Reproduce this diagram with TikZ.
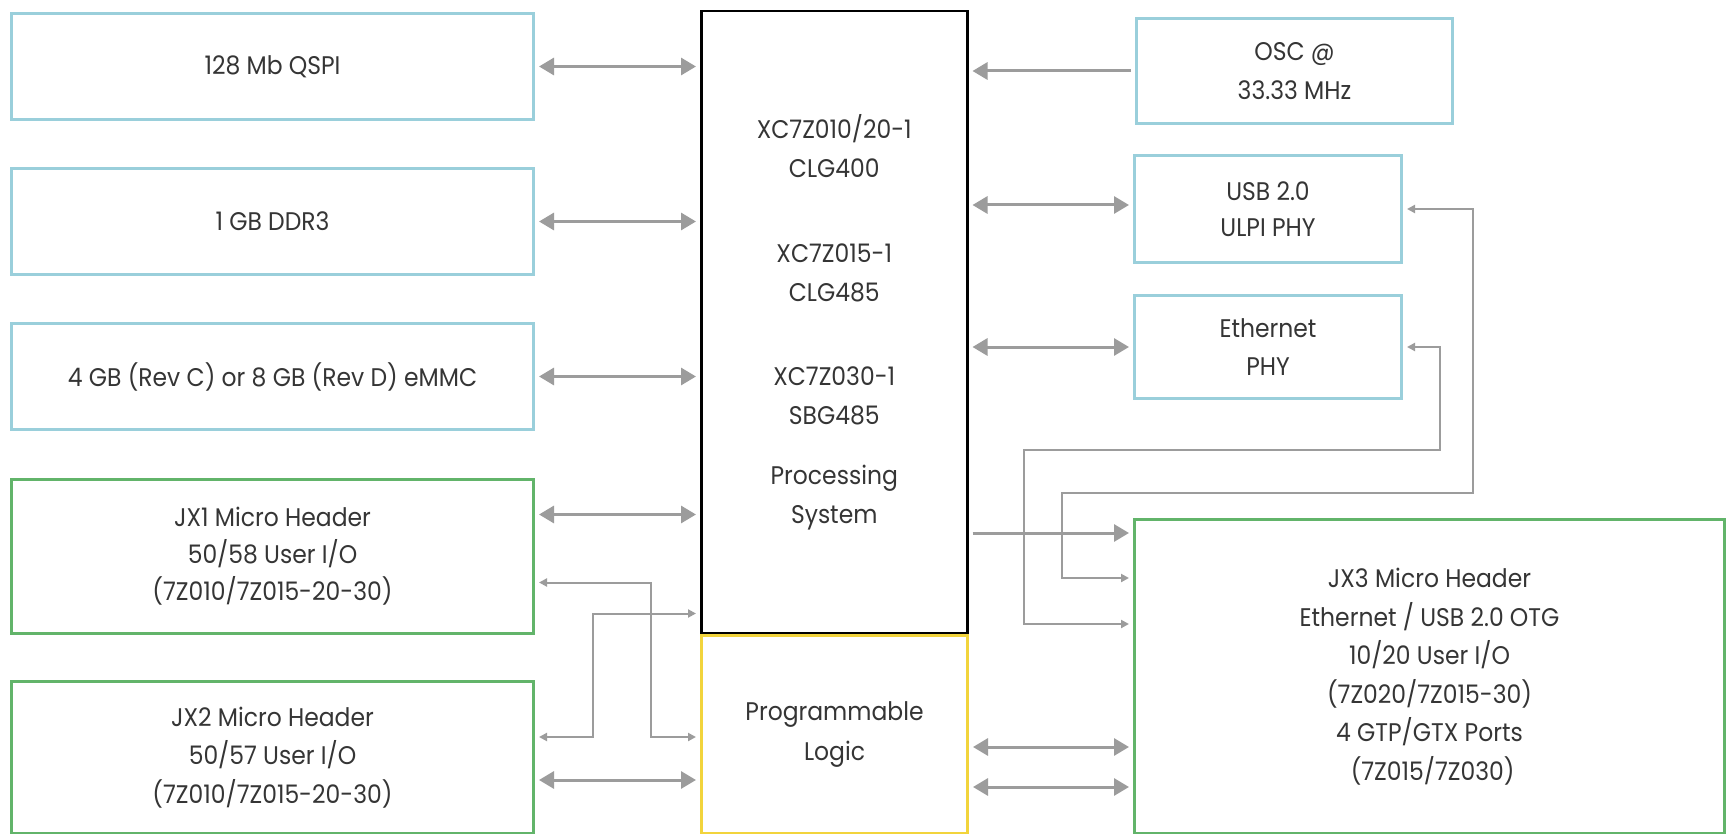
\documentclass[tikz,border=0pt]{standalone}
\usepackage{fontspec}
\setmainfont{Poppins}[FakeStretch=0.92]
\usetikzlibrary{arrows.meta,calc}
\definecolor{cblue}{HTML}{9ACFDB}
\definecolor{cgreen}{HTML}{62B46A}
\definecolor{cyell}{HTML}{F2D43C}
\definecolor{cgray}{HTML}{9C9C9C}
\definecolor{ctext}{HTML}{353535}
\tikzset{
  box/.style={draw, line width=3pt, anchor=north west, align=center, text=ctext,
    inner sep=0pt, font=\fontsize{25.5}{38.5}\selectfont},
  bluebox/.style={box, draw=cblue},
  greenbox/.style={box, draw=cgreen},
  big/.style={draw=cgray, line width=3pt, shorten <=4pt, shorten >=4pt,
    {Triangle[length=15pt,width=17pt]}-{Triangle[length=15pt,width=17pt]}},
  bigto/.style={draw=cgray, line width=3pt, shorten <=4pt, shorten >=4pt,
    -{Triangle[length=15pt,width=17pt]}},
  small/.style={draw=cgray, line width=2pt, shorten <=4pt, shorten >=4pt,
    {Triangle[length=8pt,width=8pt]}-{Triangle[length=8pt,width=8pt]}},
}
\begin{document}
\begin{tikzpicture}[x=1pt,y=-1pt]
\fill[white] (0,0) rectangle (1726,834);
\useasboundingbox (0,0) rectangle (1726,834);
% left column
\node[bluebox, minimum width=522pt, minimum height=106pt] (qspi) at (10,12) {128 Mb QSPI};
\node[bluebox, minimum width=522pt, minimum height=106pt] (ddr) at (10,167) {1 GB DDR3};
\node[bluebox, minimum width=522pt, minimum height=106pt] (emmc) at (10,322) {4 GB (Rev C) or 8 GB (Rev D) eMMC};
\node[greenbox, minimum width=522pt, minimum height=154pt, font=\fontsize{25.5}{37}\selectfont] (jx1) at (10,478) {JX1 Micro Header\\50/58 User I/O\\(7Z010/7Z015-20-30)};
\node[greenbox, minimum width=522pt, minimum height=152pt] (jx2) at (10,680) {JX2 Micro Header\\50/57 User I/O\\(7Z010/7Z015-20-30)};
% center
\node[box, draw=black, line width=2.5pt, minimum width=266pt, minimum height=622pt] (ps) at (700,10)
  {XC7Z010/20-1\\CLG400\\[47pt]XC7Z015-1\\CLG485\\[46pt]XC7Z030-1\\SBG485\\[22pt]Processing\\System};
\node[box, draw=cyell, minimum width=266pt, minimum height=198pt, font=\fontsize{25.5}{40}\selectfont] (pl) at (700,634) {Programmable\\Logic};
% right column
\node[bluebox, minimum width=316pt, minimum height=105pt] (osc) at (1135,17) {OSC @\\33.33 MHz};
\node[bluebox, minimum width=267pt, minimum height=107pt, font=\fontsize{25.5}{36}\selectfont] (usb) at (1133,154) {USB 2.0\\ULPI PHY};
\node[bluebox, minimum width=267pt, minimum height=103pt] (eth) at (1133,294) {Ethernet\\PHY};
\node[greenbox, minimum width=590pt, minimum height=314pt] (jx3) at (1133,518)
  {JX3 Micro Header\\Ethernet / USB 2.0 OTG\\10/20 User I/O\\(7Z020/7Z015-30)\\4 GTP/GTX Ports\\\ (7Z015/7Z030)};
% coordinates
\coordinate (a1) at ([yshift=42pt]jx1.east);
\coordinate (s1) at ([yshift=-26pt]jx1.east);
\coordinate (s1b) at ([yshift=-2.5pt]pl.west);
\coordinate (s2) at ([yshift=20.5pt]jx2.east);
\coordinate (s2b) at ([yshift=21pt]ps.south west);
\coordinate (a2) at ([yshift=-22.5pt]jx2.east);
\coordinate (r1) at ([yshift=-15pt]jx3.north west);
\coordinate (r2) at ([yshift=-60pt]jx3.north west);
\coordinate (r3) at ([yshift=-106pt]jx3.north west);
\coordinate (p1) at ([yshift=-12.5pt]pl.east);
\coordinate (p2) at ([yshift=-52.5pt]pl.east);
% left connectors
\draw[big] (qspi.east) -- (qspi.east -| ps.west);
\draw[big] (ddr.east) -- (ddr.east -| ps.west);
\draw[big] (emmc.east) -- (emmc.east -| ps.west);
\draw[big] (a1) -- (a1 -| ps.west);
\draw[big] (a2) -- (a2 -| pl.west);
\draw[small] (s1) -- ++(116,0) |- (s1b);
\draw[small] (s2) -- ++(58,0) |- (s2b);
% right connectors
\draw[bigto] (osc.west) -- (osc.west -| ps.east);
\draw[big] (usb.west |- 0,205) -- (ps.east |- 0,205);
\draw[big] (eth.west) -- (eth.west -| ps.east);
\draw[bigto] (r1 -| ps.east) -- (r1);
\draw[small] (usb.east) -| (1473,493) -| (1062,578) -- (r2);
\draw[small] (eth.east) -| (1440,450) -| (1024,624) -- (r3);
\draw[big] (p1) -- (p1 -| jx3.west);
\draw[big] (p2) -- (p2 -| jx3.west);
\end{tikzpicture}
\end{document}
